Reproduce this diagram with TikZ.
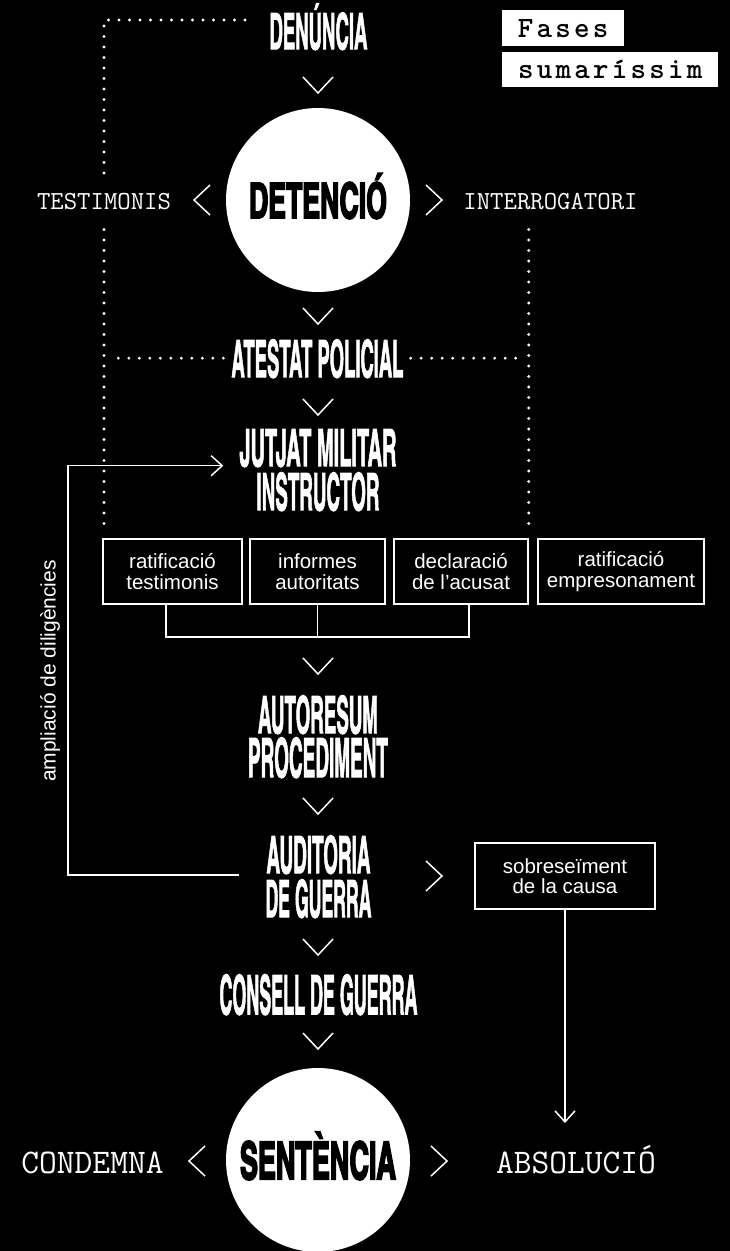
\documentclass[tikz,border=0pt]{standalone}
\usepackage{fontspec}
\usepackage{graphicx}
\setmainfont{Liberation Sans}
\newfontfamily\headfont{texgyreheroscn-bold.otf}[FakeBold=2]
\newfontfamily\heavyfont{texgyreheroscn-bold.otf}[FakeBold=4]
\newfontfamily\tagfont{lmmonolt10-bold.otf}[LetterSpace=11]
\usetikzlibrary{arrows.meta}

% condensed headline: #1 cap height, #2 width, #3 text
\newsavebox\hdbox
\newlength\hdcap
\newcommand\hdfont{\headfont}
\newcommand\hd[3][38]{%
  \sbox\hdbox{\hdfont\fontsize{54}{54}\selectfont #3}%
  \settoheight\hdcap{\hdfont\fontsize{54}{54}\selectfont H}%
  \pgfmathsetmacro\hdsx{(#2-1)/\the\wd\hdbox}%
  \pgfmathsetmacro\hdsy{(#1-1)/\the\hdcap}%
  \scalebox{\hdsx}[\hdsy]{\usebox\hdbox}}

% chevrons
\newcommand\chevD[2]{\draw[chev] (#1-15,#2-8) -- (#1,#2+8) -- (#1+15,#2-8);}
\newcommand\chevL[2]{\draw[chev] (#1+8,#2-15) -- (#1-8,#2) -- (#1+8,#2+15);}
\newcommand\chevR[2]{\draw[chev] (#1-8,#2-15) -- (#1+8,#2) -- (#1-8,#2+15);}

\tikzset{
  head/.style={inner sep=0, text=white, align=center, font=\fontsize{10}{44}\selectfont},
  disc/.style={circle, fill=white, minimum size=184, inner sep=0, text=black, text height=36, text depth=0,
    execute at begin node=\renewcommand\hdfont{\heavyfont}},
  tw/.style={inner sep=0, text=white, font=\ttfamily\fontsize{26}{26}\selectfont},
  twbig/.style={inner sep=0, text=white, font=\ttfamily\fontsize{34.5}{34.5}\selectfont},
  tagbox/.style={fill=white, text=black, inner sep=0, font=\tagfont\fontsize{29.5}{29.5}\selectfont},
  stepbox/.style={draw=white, line width=1.5pt, fill=black, text=white, inner sep=0, align=center, font=\fontsize{20.5}{20.5}\selectfont},
  conn/.style={white, line width=1.5pt},
  chev/.style={white, line width=1.5pt},
  dots/.style={white, line width=3.1pt, line cap=round, dash pattern=on 0pt off 10.5pt},
  barb/.style={-{Straight Barb[length=11pt, width=20pt]}}
}

\begin{document}
\begin{tikzpicture}[x=1pt, y=-1pt]
\useasboundingbox (0,0) rectangle (730,1251);
\fill[black] (0,0) rectangle (730,1251);

% stages
\node[head, anchor=north, text height=37, text depth=0] (den) at (318.5,12) {\hd[37]{99}{DENÚNCIA}};
\node[disc] (det) at (318,200) {\hd[36]{139}{DETENCIÓ}};
\node[head, anchor=north, text height=38, text depth=0] (ates) at (317.5,339) {\hd{173}{ATESTAT POLICIAL}};
\node[head, anchor=north] (jut) at (318,429) {\hd{158}{JUTJAT MILITAR}\\\hd{124}{INSTRUCTOR}};
\node[head, anchor=north] (aut) at (318,695) {\hd{121}{AUTORESUM}\\\hd[40]{141}{PROCEDIMENT}};
\node[head, anchor=north] (aud) at (318.5,835) {\hd{105}{AUDITORIA}\\\hd{107}{DE GUERRA}};
\node[head, anchor=north, text height=40, text depth=0] (cons) at (318.5,974) {\hd[40]{199}{CONSELL DE GUERRA}};
\node[disc, text height=38] (sen) at (318,1160) {\hd{157}{SENTÈNCIA}};

% side labels
\node[tw, anchor=base] (test) at (104,209) {TESTIMONIS};
\node[tw, anchor=base] (intr) at (550.5,209) {INTERROGATORI};
\node[twbig, anchor=base] (cond) at (92.5,1173) {CONDEMNA};
\node[twbig, anchor=base] (absol) at (576,1173) {ABSOLUCIÓ};

% title tags
\node[tagbox, anchor=north west, minimum width=122, minimum height=36] (fa) at (502,10) {Fases};
\node[tagbox, anchor=north west, minimum width=216, minimum height=35] (sum) at (502,52) {sumaríssim};

% steps of the instructor
\node[stepbox, minimum width=139, minimum height=65] (r1) at (172.5,571.5) {ratificació\\testimonis};
\node[stepbox, minimum width=135, minimum height=65] (r2) at (317.5,571.5) {informes\\autoritats};
\node[stepbox, minimum width=134, minimum height=65] (r3) at (461,571.5) {declaració\\de l’acusat};
\node[stepbox, minimum width=166, minimum height=65] (r4) at (621,571.5) {ratificació\\empresonament};
\node[stepbox, minimum width=180, minimum height=66] (sob) at (565,876) {sobreseïment\\de la causa};

\node[inner sep=0, text=white, rotate=90, font=\fontsize{21}{21}\selectfont] (ampt) at (50,671) {ampliació de diligències};

\coordinate (dl) at (245,20);
\coordinate (brk) at (318,637);
\coordinate (ampl) at (68,671);
\coordinate (abstip) at (565,1123);

% dotted links
\draw[dots, shorten >=12pt] (dl) -| (test.north);
\draw[dots, shorten <=20pt, shorten >=10pt] (test.south) -- (test.south |- r1.north);
\draw[dots, shorten <=20pt, shorten >=10pt] (r3.north east |- intr.south) -- (r3.north east);
\draw[dots, shorten <=8pt, shorten >=11pt] (ates.west) -- (ates.west -| test);
\draw[dots, shorten <=7pt, shorten >=11pt] (ates.east) -- (ates.east -| r3.north east);

% solid links
\draw[conn] ([xshift=-6.5]r1.south) |- (brk) -| ([xshift=8]r3.south);
\draw[conn] (r2.south) -- (r2.south |- brk);
\draw[conn, barb] ([xshift=-26,yshift=1.5]aud.west) -| (ampl) |- ([xshift=-16,yshift=4.5]jut.west);
\draw[conn, barb] (sob.south) -- (abstip);

% chevrons
\chevD{318}{85}
\chevD{318}{316}
\chevD{318}{407}
\chevD{318}{666}
\chevD{318}{806}
\chevD{318}{947}
\chevD{318}{1041}
\chevL{202}{200}
\chevR{434}{200}
\chevR{434}{876}
\chevL{197}{1161}
\chevR{439}{1161}
\end{tikzpicture}
\end{document}
